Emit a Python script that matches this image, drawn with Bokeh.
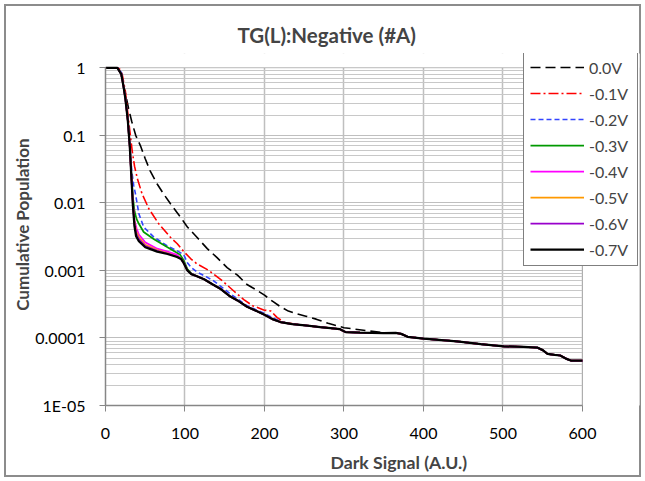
from bokeh.plotting import figure
from bokeh.models import (Legend, LegendItem, Title, CustomJSTickFormatter,
                          FixedTicker, BoxAnnotation)
from bokeh.embed import file_html
from bokeh.resources import INLINE

# ---------------- data ----------------
TITLE = "TG(L):Negative (#A)"
X_LABEL = "Dark Signal (A.U.)"
Y_LABEL = "Cumulative Population"
X_TICKS = [0, 100, 200, 300, 400, 500, 600]
Y_TICKS = [1e-5, 1e-4, 1e-3, 1e-2, 1e-1, 1]
Y_TICK_LABELS = ["1E-05", "0.0001", "0.001", "0.01", "0.1", "1"]
X_MIN, X_MAX = 0, 600
Y_MIN, Y_MAX = 1e-5, 1

SERIES = ["0.0V", "-0.1V", "-0.2V", "-0.3V", "-0.4V", "-0.5V", "-0.6V", "-0.7V"]

# shared tail (all curves coincide at high signal)
TAIL_X = [372, 380, 400, 442, 472, 501, 526, 543, 550, 556, 565, 572, 580, 586, 600]
TAIL_Y = [0.000115, 0.000104, 0.000098, 0.000089, 0.000081, 0.000075, 0.000074,
          0.000072, 0.000066, 0.000058, 0.000056, 0.000055, 0.000049, 0.000046, 0.000046]

# shared middle part of the solid curves
MID_X = [115, 124, 135, 145, 157, 166, 178, 190, 200, 210, 220, 235, 254, 270, 283, 295,
         302, 320, 350, 365]
MID_Y = [0.00082, 0.00074, 0.00062, 0.00053, 0.00041, 0.00036, 0.00029, 0.00025, 0.00022,
         0.00019, 0.000172, 0.00016, 0.000152, 0.000145, 0.00014, 0.000135,
         0.000122, 0.00012, 0.000118, 0.000119]

X_00 = [0, 15, 19, 22, 25, 29, 33, 38, 44, 50, 56, 65, 73, 82, 94, 103, 115, 128, 140,
        153, 166, 178, 189, 200, 210, 220, 230, 241, 252, 265, 280, 291, 300, 312, 329,
        350, 365]
Y_00 = [1, 1, 0.85, 0.6, 0.42, 0.25, 0.16, 0.1, 0.07, 0.045, 0.03, 0.019, 0.0136, 0.0096,
        0.0062, 0.0044, 0.0031, 0.0021, 0.00156, 0.0011, 0.00085, 0.00062, 0.00052,
        0.00043, 0.00035, 0.00029, 0.00025, 0.000227, 0.00021, 0.00019, 0.000165,
        0.000152, 0.000142, 0.000136, 0.000128, 0.00012, 0.000118]

X_01 = [0, 15, 18, 21, 25, 29.5, 33.5, 36.5, 40, 46, 54.5, 67, 81.6, 90, 98.5, 107, 115,
        130, 147, 161, 174, 185, 199, 208, 216, 225, 240, 254, 270, 283, 295, 302, 320,
        350, 365]
Y_01 = [1, 1, 0.95, 0.8, 0.45, 0.15, 0.06, 0.035, 0.023, 0.0136, 0.0082, 0.0049, 0.0031,
        0.0025, 0.0019, 0.0015, 0.00125, 0.001, 0.0007, 0.0005, 0.00037, 0.0003, 0.00026,
        0.00025, 0.0002, 0.00017, 0.00016, 0.000152, 0.000145, 0.00014, 0.000133,
        0.000122, 0.00012, 0.000118, 0.000119]

X_02 = [0, 15, 20, 23, 25, 28, 30.5, 33, 35.5, 37.7, 42, 48, 61, 78, 92, 98.5, 103, 108,
        115, 128, 136, 145, 157, 166, 178, 190, 200, 210, 220, 235, 254, 270, 283, 295,
        302, 320, 350, 365]
Y_02 = [1, 1, 0.85, 0.5, 0.37, 0.17, 0.075, 0.03, 0.018, 0.0136, 0.0069, 0.0044, 0.0031,
        0.0023, 0.0019, 0.0017, 0.0013, 0.0011, 0.00095, 0.00079, 0.0007, 0.00058,
        0.00045, 0.00038, 0.0003, 0.00026, 0.00023, 0.0002, 0.000175, 0.00016, 0.000152,
        0.000145, 0.00014, 0.000135, 0.000122, 0.00012, 0.000118, 0.000119]

X_03 = [0, 15, 20, 23, 25, 28, 30.5, 32.5, 34.5, 36.5, 39, 42, 48, 61, 78, 94, 98.5, 103, 108]
Y_03 = [1, 1, 0.8, 0.5, 0.36, 0.17, 0.07, 0.027, 0.012, 0.0075, 0.0058, 0.0049, 0.0037,
        0.0029, 0.0022, 0.0017, 0.0014, 0.00105, 0.0009]

X_04 = [0, 15, 20, 23, 25, 28, 30.5, 32.5, 34.5, 36.5, 39, 42, 50, 65, 78, 90, 95, 98.5, 103, 108]
Y_04 = [1, 1, 0.8, 0.5, 0.35, 0.17, 0.07, 0.025, 0.01, 0.0055, 0.0042, 0.0034, 0.0026,
        0.0021, 0.0019, 0.0017, 0.0015, 0.0013, 0.001, 0.00089]

X_05 = [0, 15, 20, 23, 25, 28, 30.5, 32.5, 34.5, 36.5, 39, 42, 50, 65, 78, 90, 95, 98.5, 103, 108]
Y_05 = [1, 1, 0.8, 0.5, 0.35, 0.17, 0.07, 0.025, 0.0095, 0.005, 0.0037, 0.0031, 0.0024,
        0.002, 0.0018, 0.0016, 0.00149, 0.00128, 0.001, 0.00088]

X_06 = [0, 15, 20, 23, 25, 28, 30.5, 32.5, 34.5, 36.5, 39, 42, 50, 65, 78, 90, 95, 98.5, 103, 108]
Y_06 = [1, 1, 0.8, 0.5, 0.35, 0.17, 0.07, 0.025, 0.0092, 0.0047, 0.0034, 0.0029, 0.0023,
        0.00195, 0.00178, 0.0016, 0.00148, 0.00128, 0.001, 0.00088]

X_07 = [0, 15, 20, 23, 25, 28, 30.5, 32.5, 34.5, 36.5, 38.5, 42, 50, 65, 78, 90, 95, 98.5, 103, 108]
Y_07 = [1, 1, 0.8, 0.5, 0.35, 0.17, 0.07, 0.025, 0.009, 0.0045, 0.0032, 0.0027, 0.0022,
        0.0019, 0.00175, 0.00158, 0.00148, 0.00128, 0.001, 0.00088]

SERIES_X = [X_00 + TAIL_X, X_01 + TAIL_X, X_02 + TAIL_X,
            X_03 + MID_X + TAIL_X, X_04 + MID_X + TAIL_X, X_05 + MID_X + TAIL_X,
            X_06 + MID_X + TAIL_X, X_07 + MID_X + TAIL_X]
SERIES_Y = [Y_00 + TAIL_Y, Y_01 + TAIL_Y, Y_02 + TAIL_Y,
            Y_03 + MID_Y + TAIL_Y, Y_04 + MID_Y + TAIL_Y, Y_05 + MID_Y + TAIL_Y,
            Y_06 + MID_Y + TAIL_Y, Y_07 + MID_Y + TAIL_Y]

# ---------------- style ----------------
COLORS = ["#000000", "#FF0000", "#3344FF", "#009900", "#FF00FF", "#FF9900", "#9900CC", "#000000"]
DASHES = ["10 5", "10 3 2 3", "5 3", "solid", "solid", "solid", "solid", "solid"]
WIDTHS = [1.6, 1.6, 1.6, 1.75, 1.75, 1.75, 1.75, 2.25]
FONT = "Lato"

# The frame is widened (right and top) so that the legend, which overlaps the
# plot area in the original, can sit inside it; axes/grids are bounded to the data box.
p = figure(width=645, height=481, x_range=(0, 671.7), y_range=(1e-5, 1.628),
           y_axis_type="log", output_backend="svg", toolbar_location=None,
           min_border_left=105, min_border_right=6, min_border_top=53,
           min_border_bottom=76)
p.background_fill_color = "white"
p.border_fill_color = None
p.outline_line_color = None
# outer chart border (drawn by the page around the transparent canvas border)
p.styles = {"background-color": "white",
            "box-shadow": "inset 0 0 0 4px white, inset 0 0 0 6px #8C8C8C",
            "outline": "2px solid #8C8C8C", "outline-offset": "-6px"}

# title
p.title.text = TITLE
p.title.align = "left"
p.title.offset = 132
p.title.standoff = 14
p.title.text_font = FONT
p.title.text_font_size = "20.5px"
p.title.text_font_style = "bold"

renderers = []
for xs, ys, c, d, w in zip(SERIES_X, SERIES_Y, COLORS, DASHES, WIDTHS):
    r = p.line(xs, ys, line_color=c, line_dash=d, line_width=w)
    renderers.append(r)

# axes
p.xaxis.ticker = FixedTicker(ticks=X_TICKS)
minor = [m * t for t in Y_TICKS[:-1] for m in range(2, 10)]
p.yaxis.ticker = FixedTicker(ticks=Y_TICKS, minor_ticks=minor)
p.yaxis.formatter = CustomJSTickFormatter(
    args=dict(labs=Y_TICK_LABELS, tvals=Y_TICKS),
    code="""
    let best = 0, bd = 1e9;
    for (let i = 0; i < tvals.length; i++) {
        const d = Math.abs(Math.log10(tvals[i]) - Math.log10(tick));
        if (d < bd) { bd = d; best = i; }
    }
    return labs[best];
    """)
p.xaxis.bounds = (X_MIN, X_MAX)
p.yaxis.bounds = (Y_MIN, Y_MAX)
for ax in (p.xaxis[0], p.yaxis[0]):
    ax.axis_line_color = "#868686"
    ax.axis_line_width = 1.5
    ax.major_tick_line_color = "#868686"
    ax.major_tick_out = 6
    ax.major_tick_in = 0
    ax.minor_tick_line_color = None
    ax.major_label_text_font = FONT
    ax.major_label_text_font_size = "16px"
    ax.major_label_text_color = "black"
p.yaxis.major_label_standoff = 14
p.xaxis.major_label_standoff = 16

p.xgrid.grid_line_color = "#BFBFBF"
p.xgrid.grid_line_width = 1.5
p.ygrid.grid_line_color = "#BFBFBF"
p.ygrid.grid_line_width = 1
p.ygrid.minor_grid_line_color = "#C8C8C8"
p.ygrid.minor_grid_line_width = 1

# axis titles placed in the side panels
p.add_layout(Title(text=X_LABEL, align="left", offset=225, standoff=17,
                   text_font=FONT, text_font_size="17.7px", text_font_style="bold"), "below")
p.add_layout(Title(text=Y_LABEL, align="right", offset=85, standoff=0,
                   text_font=FONT, text_font_size="17px", text_font_style="bold"), "left")

# white masks outside the data box (over the grid only), then the data-box border
p.add_layout(BoxAnnotation(left=X_MAX, fill_color="white", fill_alpha=1,
                           line_alpha=0, level="underlay"))
p.add_layout(BoxAnnotation(bottom=Y_MAX, fill_color="white", fill_alpha=1,
                           line_alpha=0, level="underlay"))
p.add_layout(BoxAnnotation(left=X_MIN, right=X_MAX, bottom=Y_MIN, top=Y_MAX,
                           fill_alpha=0, line_color="#404040", line_width=1,
                           level="underlay"))

legend = Legend(items=[LegendItem(label=s, renderers=[r]) for s, r in zip(SERIES, renderers)],
                location=(418, 139), padding=6, spacing=6, glyph_height=20, glyph_width=54,
                label_height=20, label_width=42, label_standoff=5, margin=0,
                border_line_color="black", border_line_width=1,
                background_fill_color="white", background_fill_alpha=1,
                label_text_font=FONT, label_text_font_size="16px")
p.add_layout(legend, "center")

open("out.html", "w").write(file_html(p, INLINE))
